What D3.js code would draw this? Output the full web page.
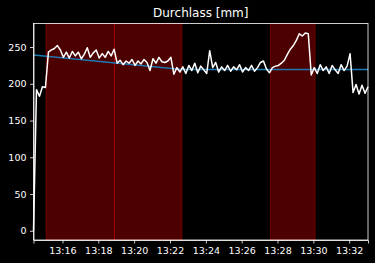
<!DOCTYPE html>
<html>
<head>
<meta charset="utf-8">
<script src="https://cdn.jsdelivr.net/npm/d3@7"></script>
<style>
  body { margin: 0; background: #000; }
  svg { display: block; font-family: "DejaVu Sans", sans-serif; }
</style>
</head>
<body>
<div class="chart"></div>
<script>
// measurement: one sample every 10 s starting 13:14:23
var startTime = "13:14:23";
var stepSeconds = 10;
var durchlass = [
  0, 192, 183, 196, 195, 243, 246, 248, 252, 246,
  236, 243, 235, 244, 238, 243, 234, 240, 249, 236,
  242, 246, 235, 241, 236, 244, 238, 247, 228, 232,
  226, 231, 228, 233, 225, 231, 227, 233, 229, 218,
  234, 228, 236, 230, 229, 231, 236, 213, 222, 216,
  223, 214, 225, 218, 228, 215, 224, 219, 214, 245,
  222, 229, 216, 223, 218, 225, 217, 223, 219, 226,
  216, 222, 218, 225, 217, 222, 229, 231, 220, 215,
  222, 224, 225, 228, 232, 240, 247, 252, 259, 268,
  265, 269, 268, 212, 222, 214, 226, 218, 223, 214,
  225, 219, 214, 226, 218, 224, 241, 188, 199, 186,
  198, 187, 196
];

// trend line (start, knee, end)
var trendTimes = ["13:14:23", "13:22:40", "13:33:03"];
var trendValues = [239, 219.5, 219.5];

// highlighted intervals
var spanStarts = ["13:15:05", "13:18:54", "13:27:36"];
var spanEnds   = ["13:18:54", "13:22:40", "13:30:06"];

var xTickLabels = ["13:16", "13:18", "13:20", "13:22", "13:24", "13:26", "13:28", "13:30", "13:32"];
var yTickValues = [0, 50, 100, 150, 200, 250];

var parseTime = d3.timeParse("%H:%M:%S");
var parseTick = d3.timeParse("%H:%M");

var margin = {top: 23.5, right: 7, bottom: 23, left: 33.5},
    width = 375 - margin.left - margin.right,
    height = 263 - margin.top - margin.bottom;

var t0 = parseTime(startTime);
var data = durchlass.map(function(v, i) {
    return {t: new Date(t0.getTime() + i * stepSeconds * 1000), v: v};
});

var x = d3.scaleTime()
    .domain([data[0].t, data[data.length - 1].t])
    .range([0, width]);
var y = d3.scaleLinear().domain([-12.5, 282]).range([height, 0]);

var svg = d3.select(".chart").append("svg")
    .attr("width", 375)
    .attr("height", 263)
    .style("background", "#000");

var g = svg.append("g")
    .attr("transform", "translate(" + margin.left + "," + margin.top + ")");

// red spans
spanStarts.forEach(function(s, i) {
    var a = x(parseTime(s)), b = x(parseTime(spanEnds[i]));
    g.append("rect")
        .attr("x", a)
        .attr("y", 0)
        .attr("width", b - a)
        .attr("height", height)
        .attr("fill", "rgba(255,0,0,0.3)")
        .attr("stroke", "rgba(255,0,0,0.3)")
        .attr("stroke-width", 1);
});

// trend
var trend = trendTimes.map(function(t, i) { return {t: parseTime(t), v: trendValues[i]}; });
var line = d3.line()
    .x(function(d) { return x(d.t); })
    .y(function(d) { return y(d.v); });

g.append("path")
    .datum(trend)
    .attr("fill", "none")
    .attr("stroke", "#1f77b4")
    .attr("stroke-width", 1.5)
    .attr("d", line);

g.append("path")
    .datum(data)
    .attr("fill", "none")
    .attr("stroke", "#fff")
    .attr("stroke-width", 1.5)
    .attr("stroke-linejoin", "round")
    .attr("d", line);

// frame
g.append("rect")
    .attr("width", width)
    .attr("height", height)
    .attr("fill", "none")
    .attr("stroke", "#fff")
    .attr("stroke-width", 0.8);

var xAxis = d3.axisBottom(x)
    .tickValues(xTickLabels.map(parseTick))
    .tickFormat(d3.timeFormat("%H:%M"))
    .tickSize(3.5)
    .tickSizeOuter(3.5)
    .tickPadding(3.5);

var gx = g.append("g")
    .attr("transform", "translate(0," + height + ")")
    .call(xAxis);

var yAxis = d3.axisLeft(y)
    .tickValues(yTickValues)
    .tickSize(3.5)
    .tickSizeOuter(0)
    .tickPadding(3.5);

var gy = g.append("g").call(yAxis);

[gx, gy].forEach(function(ax) {
    ax.selectAll("path, line").attr("stroke", "#fff").attr("stroke-width", 0.8);
    ax.selectAll("text")
        .attr("fill", "#fff")
        .style("font-size", "9.5px")
        .style("font-family", "DejaVu Sans, sans-serif");
});

// title
svg.append("text")
    .text("Durchlass [mm]")
    .attr("x", margin.left + width / 2)
    .attr("y", 17)
    .attr("text-anchor", "middle")
    .attr("fill", "#fff")
    .style("font-size", "12px");
</script>
</body>
</html>
